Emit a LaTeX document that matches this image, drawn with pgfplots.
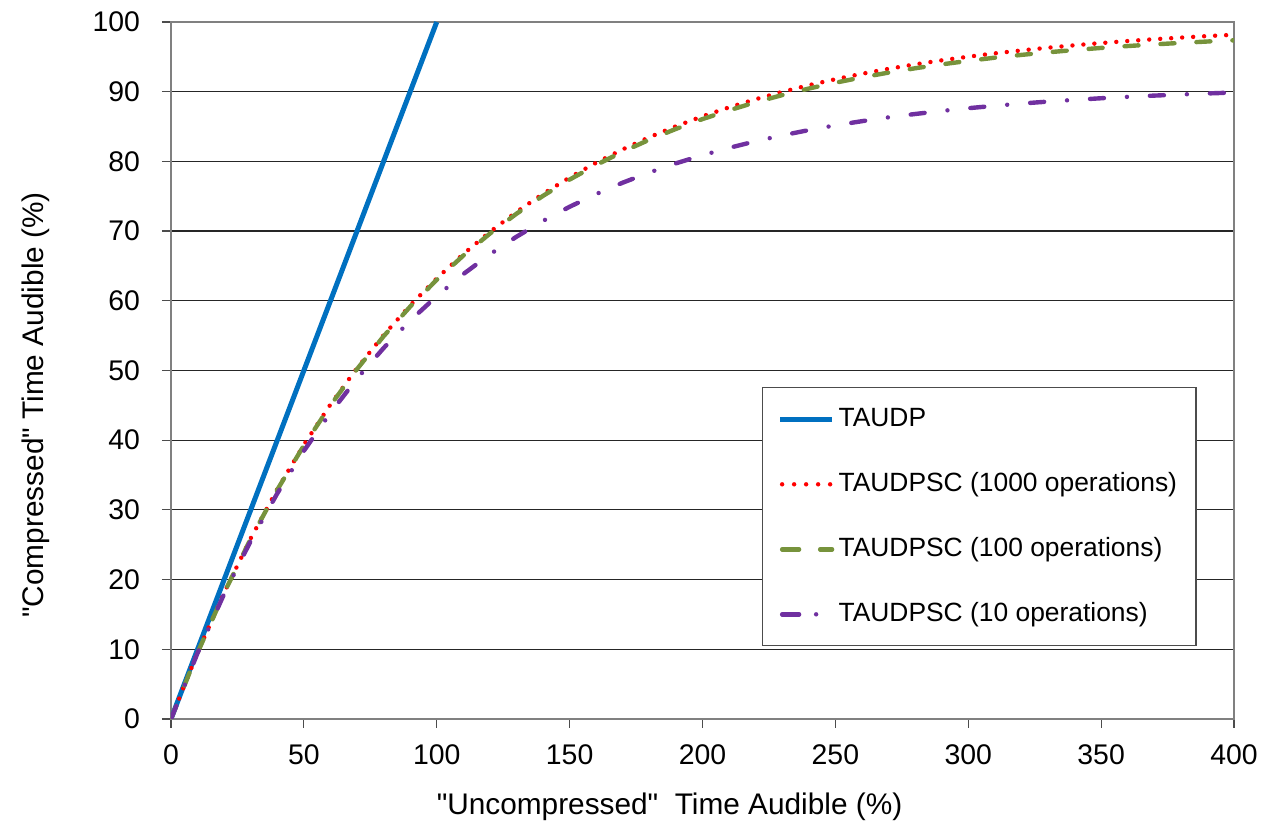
\documentclass[border=0pt]{standalone}
\usepackage{pgfplots}
\pgfplotsset{compat=1.18}
\usepackage{fontspec}
\setmainfont{Liberation Sans}
\newfontfamily\qfont{Liberation Sans}
\newcommand{\dq}{{\qfont"}}
\definecolor{cblue}{HTML}{0070C0}
\definecolor{cred}{HTML}{FF0000}
\definecolor{cgreen}{HTML}{77933C}
\definecolor{cpurple}{HTML}{7030A0}
\begin{document}
\begin{tikzpicture}
\path[use as bounding box] (-85.5pt,-56pt) rectangle (550pt,359.5pt);
\begin{axis}[
  at={(0pt,0pt)}, anchor=south west,
  scale only axis, width=531.5pt, height=348.5pt,
  xmin=0, xmax=400, ymin=0, ymax=100,
  xtick={0,50,...,400}, ytick={0,10,...,100},
  tick pos=left,
  tick align=outside, major tick length=4.5pt,
  tick style={black!70, line width=0.6pt},
  axis line style={black!50, line width=1pt},
  ymajorgrids, grid style={black!85, line width=0.6pt},
  /pgf/number format/assume math mode=true,
  ticklabel style={font=\fontsize{14.2}{17}\selectfont},
  xticklabel style={yshift=-5pt},
  yticklabel style={xshift=-7.5pt},
  label style={font=\fontsize{14.9}{18}\selectfont},
  xlabel={\dq Uncompressed\dq\ \ Time Audible (\%)},
  ylabel={\dq Compressed\dq\ Time Audible (\%)},
  xlabel style={at={(axis description cs:0.469,-0.1377)}, anchor=base},
  ylabel style={at={(axis description cs:-0.1204,0.4505)}, anchor=base},
  legend cell align=left,
  legend style={at={(axis description cs:0.556,0.476)}, anchor=north west,
    draw=black!70, line width=0.6pt, fill=white,
    font=\fontsize{13.2}{16}\selectfont,
    inner xsep=7.5pt, inner ysep=7pt, row sep=15pt,
    nodes={text height=10.5pt, text depth=3pt, inner ysep=2pt, inner xsep=2pt}},
  legend image code/.code={\draw[#1] (0pt,0pt) -- (26pt,0pt);},
]
\addplot[cblue, line width=2.5pt] coordinates {(0,0) (100,100)};
\addlegendentry{TAUDP}
\addplot[cred, line width=2.2pt, line cap=round, dash pattern=on 0pt off 5.5pt,
  legend image code/.code={\draw[cred, line width=2.2pt, line cap=round, dash pattern=on 0pt off 6pt] (1pt,0pt) -- (26pt,0pt);}] coordinates {
(0,0) (10,9.52) (20,18.13) (30,25.92) (40,32.97) (50,39.35) (60,45.12) (70,50.34) (80,55.07) (90,59.34)
(100,63.21) (110,66.71) (120,69.88) (130,72.75) (140,75.34) (150,77.69) (160,79.81) (170,81.73) (180,83.47) (190,85.04)
(200,86.47) (210,87.75) (220,88.92) (230,89.97) (240,90.93) (250,91.79) (260,92.57) (270,93.28) (280,93.92) (290,94.50)
(300,95.02) (310,95.50) (320,95.92) (330,96.31) (340,96.66) (350,96.98) (360,97.27) (370,97.53) (380,97.76) (390,97.98) (400,98.17)};
\addlegendentry{TAUDPSC (1000 operations)}
\addplot[cgreen, line width=2.2pt, line cap=round, dash pattern=on 7pt off 11pt,
  legend image code/.code={\draw[cgreen, line width=2.2pt, line cap=round, dash pattern=on 8.5pt off 10.5pt] (1pt,0pt) -- (26pt,0pt);}] coordinates {
(0,0) (10,9.50) (20,18.09) (30,25.86) (40,32.89) (50,39.25) (60,45.00) (70,50.20) (80,54.91) (90,59.16)
(100,63.01) (110,66.49) (120,69.64) (130,72.49) (140,75.06) (150,77.39) (160,79.49) (170,81.39) (180,83.11) (190,84.66)
(200,86.07) (210,87.33) (220,88.48) (230,89.51) (240,90.45) (250,91.29) (260,92.05) (270,92.74) (280,93.36) (290,93.92)
(300,94.42) (310,94.88) (320,95.28) (330,95.65) (340,95.98) (350,96.28) (360,96.55) (370,96.79) (380,97.00) (390,97.20) (400,97.37)};
\addlegendentry{TAUDPSC (100 operations)}
\addplot[cpurple, line width=2.2pt, line cap=round, dash pattern=on 7pt off 11.5pt on 0pt off 11.5pt,
  legend image code/.code={\draw[cpurple, line width=2.2pt, line cap=round, dash pattern=on 8.5pt off 8.5pt on 0pt off 10pt] (1pt,0pt) -- (26pt,0pt);}] coordinates {
(0,0) (10,9.47) (20,17.95) (30,25.55) (40,32.37) (50,38.47) (60,43.93) (70,48.83) (80,53.22) (90,57.15)
(100,60.67) (110,63.83) (120,66.66) (130,69.19) (140,71.46) (150,73.49) (160,75.31) (170,76.95) (180,78.41) (190,79.72)
(200,80.89) (210,81.94) (220,82.89) (230,83.73) (240,84.49) (250,85.17) (260,85.77) (270,86.32) (280,86.80) (290,87.24)
(300,87.63) (310,87.98) (320,88.30) (330,88.58) (340,88.83) (350,89.06) (360,89.26) (370,89.44) (380,89.60) (390,89.75) (400,89.88)};
\addlegendentry{TAUDPSC (10 operations)}
\end{axis}
\end{tikzpicture}
\end{document}
